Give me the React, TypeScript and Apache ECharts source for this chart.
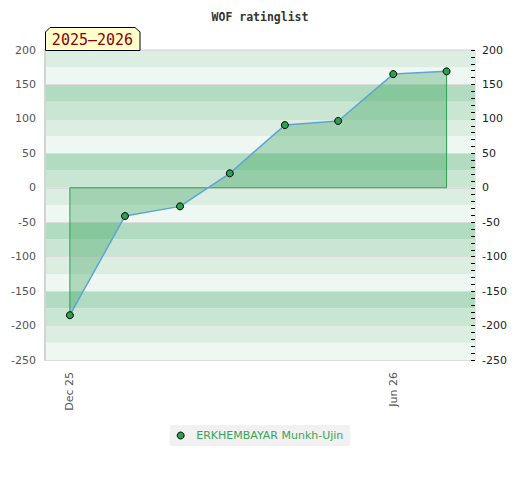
import React, { useEffect, useRef } from "react";
import * as echarts from "echarts";

const playerName = "ERKHEMBAYAR Munkh-Ujin";
const chartTitle = "WOF ratinglist";
const seasonLabel = "2025–2026";
const months = [
  "2025-12-01",
  "2026-01-01",
  "2026-02-01",
  "2026-03-01",
  "2026-04-01",
  "2026-05-01",
  "2026-06-01",
  "2026-07-01",
];
const ratings = [-185, -41, -27, 21, 91, 97, 165, 169];
const xLabelDates = ["2025-12-01", "2026-06-01"];
const xRange = ["2025-11-17", "2026-07-17"];
const yMin = -250;
const yMax = 200;
const yInterval = 50;
const bandInterval = 25;
const monthNames = ["Jan", "Feb", "Mar", "Apr", "May", "Jun", "Jul", "Aug", "Sep", "Oct", "Nov", "Dec"];

const toTime = (s: string) => {
  const [y, m, d] = s.split("-").map(Number);
  return new Date(y, m - 1, d).getTime();
};

export default function App() {
  const ref = useRef<HTMLDivElement>(null);
  useEffect(() => {
    if (!ref.current) return;
    const chart = echarts.init(ref.current, null, { renderer: "svg" });
    const pts = months.map((m, i) => [toTime(m), ratings[i]]);
    const last = pts.length - 1;
    const frame = [
      [pts[0][0], pts[0][1]],
      [pts[0][0], 0],
      [pts[last][0], 0],
      [pts[last][0], pts[last][1]],
    ];
    const green = "#2e9e52";
    chart.setOption({
      animation: false,
      textStyle: { fontFamily: "DejaVu Sans" },
      title: {
        text: chartTitle,
        left: "center",
        top: 6,
        textStyle: {
          fontFamily: "DejaVu Sans Mono",
          fontWeight: "bold",
          fontSize: 11.5,
          color: "#333",
        },
      },
      graphic: [
        {
          type: "polygon",
          shape: {
            points: [
              [45.5, 50.5],
              [45.5, 32],
              [50, 27.5],
              [135, 27.5],
              [140, 32],
              [140, 50.5],
            ],
          },
          style: { fill: "#ffffcc", stroke: "#000", lineWidth: 1 },
          z: 10,
        },
        {
          type: "text",
          x: 92.5,
          y: 39.5,
          style: {
            text: seasonLabel,
            fontFamily: "DejaVu Sans Mono",
            fontSize: 15,
            fill: "#8b0000",
            align: "center",
            verticalAlign: "middle",
          },
          z: 11,
        },
      ],
      grid: {
        left: 45,
        right: 45,
        top: 50,
        bottom: 120,
        show: true,
        borderColor: "#d0d0d0",
        borderWidth: 1,
      },
      legend: {
        data: [
          {
            name: playerName,
            icon: "circle",
            itemStyle: { color: green, borderColor: "#000", borderWidth: 1 },
          },
        ],
        left: "center",
        top: 425,
        padding: [5, 7, 5, 7],
        itemWidth: 7,
        itemHeight: 7,
        backgroundColor: "#f1f1f1",
        textStyle: {
          color: "#3aa35a",
          fontSize: 11,
          fontFamily: "DejaVu Sans",
          padding: [0, 0, 0, 7],
        },
      },
      xAxis: {
        type: "value",
        min: toTime(xRange[0]),
        max: toTime(xRange[1]),
        axisLine: { show: false, onZero: false },
        axisTick: { show: false },
        splitLine: { show: false },
        axisLabel: {
          customValues: xLabelDates.map(toTime),
          rotate: 90,
          margin: 12,
          color: "#555",
          fontSize: 11,
          fontFamily: "DejaVu Sans",
          formatter: (v: number) => {
            const d = new Date(v);
            return monthNames[d.getMonth()] + " " + String(d.getFullYear() % 100).padStart(2, "0");
          },
        },
      },
      yAxis: [
        {
          type: "value",
          min: yMin,
          max: yMax,
          interval: bandInterval,
          position: "left",
          axisLine: { show: false, onZero: false },
          axisTick: { show: false },
          axisLabel: { show: false },
          splitLine: { show: false },
          splitArea: {
            show: true,
            areaStyle: { color: ["#eef7f1", "#dcede2", "#c9e6d3", "#b2dcc1"] },
          },
        },
        {
          type: "value",
          min: yMin,
          max: yMax,
          interval: yInterval,
          position: "left",
          axisLine: { show: true, onZero: false, lineStyle: { color: "#d4d4d4", width: 2 } },
          axisTick: { show: false },
          axisLabel: { color: "#555", fontSize: 11, margin: 9 },
          splitLine: { show: true, lineStyle: { color: "#dcdcdc", width: 1 } },
        },
        {
          type: "value",
          min: yMin,
          max: yMax,
          interval: yInterval,
          position: "right",
          axisLine: { show: false, onZero: false },
          axisTick: { show: true, inside: true, length: 4, lineStyle: { color: "#000" } },
          minorTick: { show: true, splitNumber: 5, length: 4, lineStyle: { color: "#000" } },
          axisLabel: { color: "#222", fontSize: 11, margin: 7 },
          splitLine: { show: false },
        },
      ],
      series: [
        {
          name: "area",
          type: "line",
          data: pts,
          symbol: "none",
          lineStyle: { width: 0 },
          areaStyle: { color: "rgba(46,158,82,0.48)", origin: 0 },
          silent: true,
          z: 3,
        },
        {
          name: "frame",
          type: "line",
          data: frame,
          symbol: "none",
          lineStyle: { color: green, width: 1 },
          silent: true,
          z: 4,
        },
        {
          name: playerName,
          type: "line",
          data: pts,
          symbol: "circle",
          symbolSize: 7,
          itemStyle: { color: green, borderColor: "#000", borderWidth: 1 },
          lineStyle: { color: "#5ea3d9", width: 1.5 },
          z: 5,
        },
      ],
    });
    return () => chart.dispose();
  }, []);
  return <div ref={ref} style={{ position: "absolute", left: 0, top: 0, width: 520, height: 480 }} />;
}
